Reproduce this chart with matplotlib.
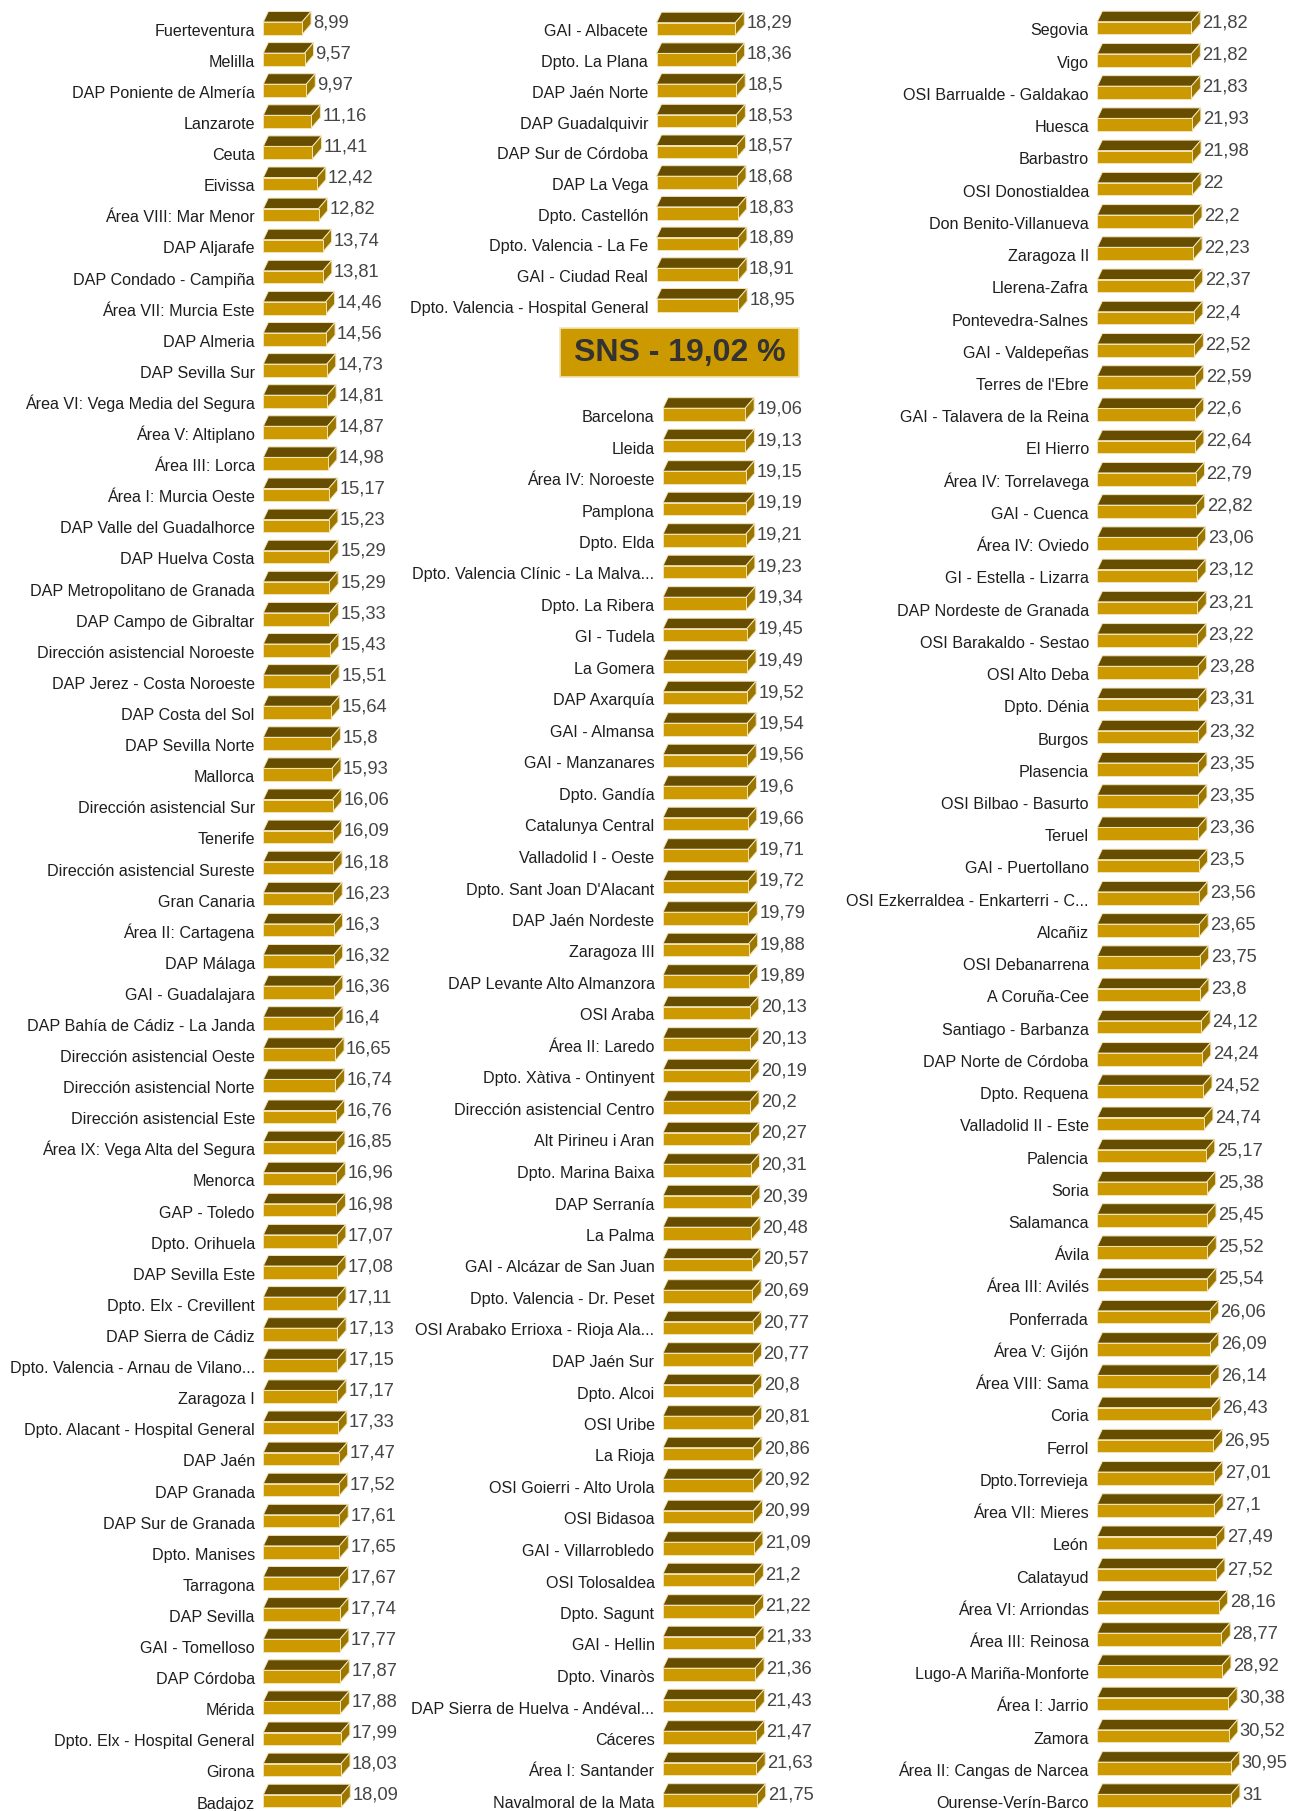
import matplotlib.pyplot as plt
from matplotlib.patches import Polygon, Rectangle

plt.rcParams['font.family'] = ['Liberation Sans', 'DejaVu Sans']

# columna 1
names_1 = ['Fuerteventura', 'Melilla', 'DAP Poniente de Almería', 'Lanzarote', 'Ceuta', 'Eivissa',
           'Área VIII: Mar Menor', 'DAP Aljarafe', 'DAP Condado - Campiña', 'Área VII: Murcia Este',
           'DAP Almeria', 'DAP Sevilla Sur', 'Área VI: Vega Media del Segura', 'Área V: Altiplano',
           'Área III: Lorca', 'Área I: Murcia Oeste', 'DAP Valle del Guadalhorce', 'DAP Huelva Costa',
           'DAP Metropolitano de Granada', 'DAP Campo de Gibraltar', 'Dirección asistencial Noroeste',
           'DAP Jerez - Costa Noroeste', 'DAP Costa del Sol', 'DAP Sevilla Norte', 'Mallorca',
           'Dirección asistencial Sur', 'Tenerife', 'Dirección asistencial Sureste', 'Gran Canaria',
           'Área II: Cartagena', 'DAP Málaga', 'GAI - Guadalajara', 'DAP Bahía de Cádiz - La Janda',
           'Dirección asistencial Oeste', 'Dirección asistencial Norte', 'Dirección asistencial Este',
           'Área IX: Vega Alta del Segura', 'Menorca', 'GAP - Toledo', 'Dpto. Orihuela', 'DAP Sevilla Este',
           'Dpto. Elx - Crevillent', 'DAP Sierra de Cádiz', 'Dpto. Valencia - Arnau de Vilano...',
           'Zaragoza I', 'Dpto. Alacant - Hospital General', 'DAP Jaén', 'DAP Granada',
           'DAP Sur de Granada', 'Dpto. Manises', 'Tarragona', 'DAP Sevilla', 'GAI - Tomelloso',
           'DAP Córdoba', 'Mérida', 'Dpto. Elx - Hospital General', 'Girona', 'Badajoz']
vals_1 = [8.99, 9.57, 9.97, 11.16, 11.41, 12.42, 12.82, 13.74, 13.81, 14.46, 14.56, 14.73, 14.81,
          14.87, 14.98, 15.17, 15.23, 15.29, 15.29, 15.33, 15.43, 15.51, 15.64, 15.8, 15.93, 16.06,
          16.09, 16.18, 16.23, 16.3, 16.32, 16.36, 16.4, 16.65, 16.74, 16.76, 16.85, 16.96, 16.98,
          17.07, 17.08, 17.11, 17.13, 17.15, 17.17, 17.33, 17.47, 17.52, 17.61, 17.65, 17.67, 17.74,
          17.77, 17.87, 17.88, 17.99, 18.03, 18.09]

# columna 2, por encima de la media
names_2a = ['GAI - Albacete', 'Dpto. La Plana', 'DAP Jaén Norte', 'DAP Guadalquivir',
            'DAP Sur de Córdoba', 'DAP La Vega', 'Dpto. Castellón', 'Dpto. Valencia - La Fe',
            'GAI - Ciudad Real', 'Dpto. Valencia - Hospital General']
vals_2a = [18.29, 18.36, 18.5, 18.53, 18.57, 18.68, 18.83, 18.89, 18.91, 18.95]

sns_media = 19.02

# columna 2, por debajo de la media
names_2b = ['Barcelona', 'Lleida', 'Área IV: Noroeste', 'Pamplona', 'Dpto. Elda',
            'Dpto. Valencia Clínic - La Malva...', 'Dpto. La Ribera', 'GI - Tudela', 'La Gomera',
            'DAP Axarquía', 'GAI - Almansa', 'GAI - Manzanares', 'Dpto. Gandía', 'Catalunya Central',
            'Valladolid I - Oeste', "Dpto. Sant Joan D'Alacant", 'DAP Jaén Nordeste', 'Zaragoza III',
            'DAP Levante Alto Almanzora', 'OSI Araba', 'Área II: Laredo', 'Dpto. Xàtiva - Ontinyent',
            'Dirección asistencial Centro', 'Alt Pirineu i Aran', 'Dpto. Marina Baixa', 'DAP Serranía',
            'La Palma', 'GAI - Alcázar de San Juan', 'Dpto. Valencia - Dr. Peset',
            'OSI Arabako Errioxa - Rioja Ala...', 'DAP Jaén Sur', 'Dpto. Alcoi', 'OSI Uribe', 'La Rioja',
            'OSI Goierri - Alto Urola', 'OSI Bidasoa', 'GAI - Villarrobledo', 'OSI Tolosaldea',
            'Dpto. Sagunt', 'GAI - Hellin', 'Dpto. Vinaròs', 'DAP Sierra de Huelva - Andéval...',
            'Cáceres', 'Área I: Santander', 'Navalmoral de la Mata']
vals_2b = [19.06, 19.13, 19.15, 19.19, 19.21, 19.23, 19.34, 19.45, 19.49, 19.52, 19.54, 19.56,
           19.6, 19.66, 19.71, 19.72, 19.79, 19.88, 19.89, 20.13, 20.13, 20.19, 20.2, 20.27, 20.31,
           20.39, 20.48, 20.57, 20.69, 20.77, 20.77, 20.8, 20.81, 20.86, 20.92, 20.99, 21.09, 21.2,
           21.22, 21.33, 21.36, 21.43, 21.47, 21.63, 21.75]

# columna 3
names_3 = ['Segovia', 'Vigo', 'OSI Barrualde - Galdakao', 'Huesca', 'Barbastro', 'OSI Donostialdea',
           'Don Benito-Villanueva', 'Zaragoza II', 'Llerena-Zafra', 'Pontevedra-Salnes',
           'GAI - Valdepeñas', "Terres de l'Ebre", 'GAI - Talavera de la Reina', 'El Hierro',
           'Área IV: Torrelavega', 'GAI - Cuenca', 'Área IV: Oviedo', 'GI - Estella - Lizarra',
           'DAP Nordeste de Granada', 'OSI Barakaldo - Sestao', 'OSI Alto Deba', 'Dpto. Dénia', 'Burgos',
           'Plasencia', 'OSI Bilbao - Basurto', 'Teruel', 'GAI - Puertollano',
           'OSI Ezkerraldea - Enkarterri - C...', 'Alcañiz', 'OSI Debanarrena', 'A Coruña-Cee',
           'Santiago - Barbanza', 'DAP Norte de Córdoba', 'Dpto. Requena', 'Valladolid II - Este',
           'Palencia', 'Soria', 'Salamanca', 'Ávila', 'Área III: Avilés', 'Ponferrada', 'Área V: Gijón',
           'Área VIII: Sama', 'Coria', 'Ferrol', 'Dpto.Torrevieja', 'Área VII: Mieres', 'León',
           'Calatayud', 'Área VI: Arriondas', 'Área III: Reinosa', 'Lugo-A Mariña-Monforte',
           'Área I: Jarrio', 'Zamora', 'Área II: Cangas de Narcea', 'Ourense-Verín-Barco']
vals_3 = [21.82, 21.82, 21.83, 21.93, 21.98, 22, 22.2, 22.23, 22.37, 22.4, 22.52, 22.59, 22.6,
          22.64, 22.79, 22.82, 23.06, 23.12, 23.21, 23.22, 23.28, 23.31, 23.32, 23.35, 23.35, 23.36,
          23.5, 23.56, 23.65, 23.75, 23.8, 24.12, 24.24, 24.52, 24.74, 25.17, 25.38, 25.45, 25.52,
          25.54, 26.06, 26.09, 26.14, 26.43, 26.95, 27.01, 27.1, 27.49, 27.52, 28.16, 28.77, 28.92,
          30.38, 30.52, 30.95, 31]

FRONT = '#CC9900'
TOP = '#664D00'
SIDE = '#9C7700'
EDGE = '#F2E4B8'

W, H = 1303, 1811
PX_UNIT = 4.31

fig = plt.figure(figsize=(W / 100, H / 100), dpi=100)


def barras_3d(names, vals, zero_px, y0_px, pitch_px):
    # ejes invisibles: x en % , y en filas
    ax = fig.add_axes([zero_px / W, 0, 180 / W, 1])
    ax.set_xlim(0, 180 / PX_UNIT)
    ax.set_ylim((H - y0_px) / pitch_px, -y0_px / pitch_px)
    ax.axis('off')
    ux = 1 / PX_UNIT
    uy = 1 / pitch_px
    h = 12.6 * uy
    dy = 10.5 * uy
    dl, dr = 5 * ux, 9 * ux
    for i, (n, v) in enumerate(zip(names, vals)):
        top = i - h / 2
        bot = i + h / 2
        ax.add_patch(Polygon([(0, top), (v, top), (v + dr, top - dy), (dl, top - dy)],
                             closed=True, fc=TOP, ec=EDGE, lw=0.7, clip_on=False))
        ax.add_patch(Polygon([(v, top), (v + dr, top - dy), (v + dr, bot - dy), (v, bot)],
                             closed=True, fc=SIDE, ec=EDGE, lw=0.7, clip_on=False))
        ax.add_patch(Rectangle((0, top), v, h, fc=FRONT, ec=EDGE, lw=0.7, clip_on=False))
        ax.text(-8.5 * ux, i + 7.5 * uy, n, ha='right', va='baseline',
                fontsize=11.65, color='#1e1e1e')
        ax.text(v + dr + 2 * ux, i - 1.0 * uy, f'{v:g}'.replace('.', ','),
                ha='left', va='baseline', fontsize=13.2, color='#454545')
    return ax


barras_3d(names_1, vals_1, 263.3, 28.3, 31.1)
barras_3d(names_2a, vals_2a, 656.5, 29.0, 30.7)
barras_3d(names_2b, vals_2b, 663.0, 414.5, 31.5)
barras_3d(names_3, vals_3, 1097.3, 28.0, 32.23)

# recuadro de la media SNS
bx0, by0, bx1, by1 = 560, 328, 799, 377
fig.add_artist(Rectangle((bx0 / W, 1 - by1 / H), (bx1 - bx0) / W, (by1 - by0) / H,
                         transform=fig.transFigure, fc=FRONT, ec=EDGE, lw=1.2))
fig.text((bx0 + bx1) / 2 / W, 1 - (by0 + by1) / 2 / H,
         f'SNS - {sns_media:.2f} %'.replace('.', ','),
         ha='center', va='center', fontsize=23, fontweight='bold', color='#333333')

fig.savefig('out.png', dpi=100, facecolor='white')
